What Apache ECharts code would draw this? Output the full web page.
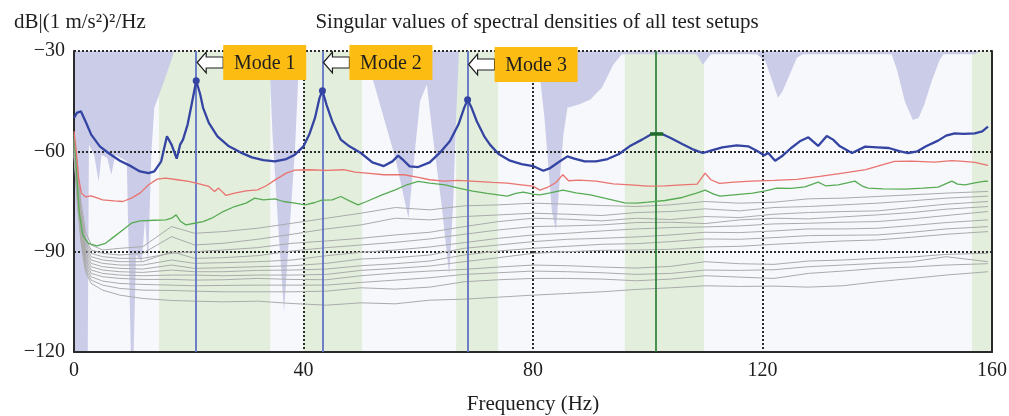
<!DOCTYPE html>
<html>
<head>
<meta charset="utf-8">
<script src="https://cdn.jsdelivr.net/npm/echarts@6/dist/echarts.min.js"></script>
<style>
  html, body { margin: 0; padding: 0; background: #ffffff; }
  #chart { width: 1009px; height: 416px; }
</style>
</head>
<body>
<div id="chart"></div>
<script>
// ---- Data (frequency in Hz, level in dB re (1 m/s²)²/Hz) ----

// First singular value
const BLUE_X = [0, 0.5, 1.2, 2, 3, 4.5, 6, 8, 10, 11.5, 13, 14, 15.2, 16.2, 17, 17.9, 18.5, 19, 19.8, 20.5, 21.3, 22, 22.5, 23.5, 25, 27, 29, 31, 33, 35, 37, 38.5, 40, 41, 42, 42.8, 43.3, 44, 45, 46.5, 48, 50, 52, 54, 55.5, 56.5, 57.5, 58.5, 60, 62, 64, 65.5, 67, 68, 68.6, 69.3, 70.2, 71.5, 72.5, 74, 76, 78, 80, 81.8, 83, 84.5, 86, 87.2, 89, 91, 93, 95, 97, 99, 100.7, 102.5, 104, 106, 108, 109.6, 111, 113, 115.5, 117.5, 119, 120.3, 121, 122.2, 123.5, 125, 126.5, 128, 129.7, 131.2, 132.3, 133.5, 135.6, 137.9, 140, 142, 144, 145.4, 147, 148.5, 150.6, 152, 153.5, 155, 157, 158.3, 159.3];
const BLUE_Y = [-50, -48.5, -48, -51, -55, -58.5, -60.5, -62.8, -64.5, -66, -66.5, -66, -63, -55.5, -58, -62.2, -58, -56.5, -52, -46, -38.9, -43, -47, -51.5, -55.5, -58.5, -60.3, -61.8, -62.6, -63, -62.3, -61, -58.5, -55, -50, -44, -41.9, -46, -51, -56.5, -58.5, -60.5, -63.3, -64.4, -63, -61.3, -62.8, -64.5, -64.7, -63.3, -60, -57, -52, -47, -44.6, -47, -51, -55.5, -58, -60.8, -62.8, -63.8, -64.4, -65.8, -65, -63.2, -61.5, -62.2, -63, -63, -62.3, -60.8, -58.3, -56.5, -54.8, -54.8, -56, -57.8, -59.5, -60.5, -59.8, -58.8, -58.2, -58.5, -59.8, -61.2, -60.5, -62.8, -61.3, -59, -57, -55.8, -58.4, -55.4, -56.5, -58.5, -60.5, -58.6, -58.8, -59, -60, -60.5, -60, -58.5, -56.8, -55.3, -54.6, -54.8, -54.6, -54, -52.6];

// Second singular value
const RED_X = [0, 0.4, 0.8, 1.3, 2, 3, 5, 7, 8.5, 10, 11.5, 13, 14.5, 16, 18, 20, 22, 23.5, 24.5, 25.2, 26.5, 28, 30, 32, 33.5, 35, 37, 38.5, 41, 44, 47, 49, 51, 54, 57.5, 60, 62, 64.5, 67, 70, 73, 75.5, 78, 80, 81.2, 82.5, 84, 85.2, 86.2, 88, 91, 94, 97, 100, 103, 106, 108.6, 110, 111, 112.5, 115, 118, 122, 126, 130, 134, 138, 141, 143, 146, 150, 153, 155, 157, 159.3];
const RED_Y = [-54, -60, -68, -72.5, -73.6, -73.3, -74.5, -74.8, -75, -74, -72.5, -70, -68.3, -68, -68.5, -69, -69.8, -70.5, -72, -71, -73.2, -72.5, -71.8, -71.5, -70.3, -68.6, -66.5, -65.6, -65.5, -65.7, -65.5, -66.2, -66.5, -67, -67, -67.8, -68.5, -68.9, -68.7, -69, -69.3, -69.5, -70, -70.4, -71.6, -70.8, -69.3, -67, -68.8, -68.6, -68.9, -69.7, -70, -70.4, -70.3, -70, -69.8, -66.5, -68.5, -69.6, -69.2, -68.9, -68.7, -68.4, -67.5, -66.5, -65.5, -64, -63, -62.9, -63.2, -62.8, -63, -63.3, -64.2];

// Third singular value
const GREEN_X = [0, 0.4, 0.9, 1.5, 2.5, 4, 5.5, 7, 8.5, 10, 11.5, 14, 16, 17, 17.8, 18.6, 19.5, 21, 22.5, 24, 26, 28, 30, 31.5, 33, 35, 36.5, 38.5, 40.3, 42, 43.2, 45, 46.5, 48, 49.5, 51, 53.7, 56, 58, 60, 62, 64.7, 67, 69.5, 72, 75.5, 77, 78.3, 80, 81.2, 83, 85.2, 87.5, 90, 93, 96, 98, 100, 103, 106, 108.5, 110, 111.5, 112.6, 115, 118.3, 120.5, 122.5, 125, 127.4, 129.7, 131, 133.2, 136.1, 137.5, 138.4, 141, 144.8, 148, 150.6, 153, 154, 155.3, 157, 158.8, 159.3];
const GREEN_Y = [-55, -65, -78, -85, -87.5, -88.3, -87.5, -85.5, -83.5, -81.5, -80.8, -80.6, -80.5, -80, -79, -81, -82, -81.5, -81, -80, -78, -76.5, -75.5, -74, -74.5, -74.2, -75, -75.5, -76, -75.3, -74.6, -74.5, -73.5, -74.8, -76, -75, -73, -71.5, -70, -69, -69.5, -70, -71, -71.9, -72.6, -73.4, -72.6, -72.2, -72.8, -73, -72.4, -71.6, -72.4, -73, -74.2, -75.4, -75.5, -75.2, -74.7, -73.8, -72.5, -71.6, -72.8, -73.4, -73, -72.5, -71.8, -71, -71.1, -70.6, -69.2, -70.3, -70, -68.9, -70.5, -71, -71.2, -71.3, -71, -70.7, -68.9, -69.8, -70, -69.4, -68.9, -69];

// Remaining singular values share one frequency grid
const GREY_X = [0, 0.6, 1.2, 2, 3, 5, 8, 12, 17, 21, 26, 32, 38, 44, 50, 56, 62, 68, 74, 80, 86, 92, 98, 104, 110, 116, 122, 128, 134, 140, 146, 152, 159.3];
const GREY_1  = [-56, -64, -75, -84, -88, -89.5, -89, -88.5, -82.5, -84.5, -84, -83, -81.5, -80, -78.5, -76.8, -77.5, -76.3, -76, -75.5, -75.8, -76.2, -76.5, -76, -75, -75.5, -75.2, -74.2, -74, -73.5, -73, -72.5, -72];
const GREY_2  = [-56.5, -66, -77, -86, -89.5, -90.5, -91, -90.5, -85.5, -88, -87.5, -86.3, -84.8, -83.2, -82, -80, -80.5, -79.5, -79, -78.5, -78.8, -79.2, -78.3, -78, -77.2, -77.8, -76.8, -76.5, -76, -75.5, -74.8, -74, -73.4];
const GREY_3  = [-57, -67, -78, -87, -90.5, -91.5, -92, -92, -90.5, -90, -89.5, -88.8, -87.5, -86.8, -86, -85, -84.2, -82.5, -81, -80, -80.3, -80.8, -80, -80.4, -79.5, -79.8, -78.8, -78.3, -78, -77.8, -76.8, -75.8, -75];
const GREY_4  = [-57.5, -68, -79, -88, -91.5, -92.5, -93, -93, -90, -92, -91.8, -91.2, -89.8, -88.8, -88, -87.2, -86.2, -84.8, -83.5, -82.5, -82.3, -82, -81.3, -81.2, -81.6, -80.5, -80, -80.2, -79.6, -79, -78.3, -77.3, -76.5];
const GREY_5  = [-58, -69, -80, -89, -92.5, -93.5, -94, -94, -92.5, -93.5, -93.3, -93, -92.5, -91.2, -90.2, -89.5, -88.6, -87.3, -86, -85, -84.5, -83.8, -83.2, -82.8, -82.6, -82.3, -81.7, -81.5, -81.2, -81, -80.2, -79.2, -78];
const GREY_6  = [-58.5, -70, -81, -90, -93.5, -94.5, -95, -95.2, -94, -95, -94.8, -94.5, -94.2, -93.5, -92.2, -91.8, -91, -89, -88, -87, -86.3, -86, -85.6, -85, -84.2, -84.3, -83.8, -83.2, -83.2, -83, -82.2, -81.3, -80.5];
const GREY_7  = [-59, -71, -82, -91, -94.5, -95.5, -96, -96.2, -95.5, -96, -96, -95.6, -95.5, -95.2, -94.2, -93.6, -92.8, -91, -89.8, -89, -88.4, -87.8, -87.6, -87, -86.2, -86.3, -85.8, -85.2, -85.1, -85, -84.2, -83.2, -82.5];
const GREY_8  = [-59.5, -72, -83, -92, -95.5, -96.5, -97, -97.2, -97, -97, -97.2, -97, -97, -96.8, -95.6, -95, -94.3, -93, -91.8, -90.5, -90, -89.6, -89.5, -89.3, -88.6, -88.4, -87.8, -87.3, -86.8, -86.5, -85.7, -84.8, -84];
const GREY_9  = [-60, -73, -84, -93, -96.5, -97.5, -98, -98.3, -98.3, -98.5, -98.4, -98, -98.3, -98.4, -97.2, -96.4, -95.8, -95.3, -94.6, -94, -94.2, -94.6, -94.9, -94.4, -93, -93.6, -93.8, -92.8, -92.5, -92, -91.6, -90.8, -90.5];
const GREY_10 = [-60.5, -74, -85, -94, -97.5, -98.8, -99.5, -99.8, -100, -100.2, -100.1, -100, -100, -100, -99.2, -98.5, -97.8, -96.8, -96.3, -95.8, -96, -96.3, -96.8, -96.5, -95.5, -95.6, -95.4, -94.5, -94, -93.5, -93, -91.5, -93];
const GREY_11 = [-61, -75, -86, -95, -98.5, -100, -101, -101.5, -101.6, -101.8, -102, -102, -102, -101.8, -100.8, -101.2, -100.6, -99, -98.4, -98, -98, -98.2, -98.7, -98.2, -97.2, -97.6, -98, -96.5, -95.8, -95, -94.6, -94, -93.6];
const GREY_12 = [-61.5, -76, -87, -96, -99.5, -101.5, -103, -104, -104.6, -104.8, -105, -104.8, -105.5, -106, -105.3, -105.6, -104.5, -104.2, -103.6, -103, -102.5, -102, -101.3, -100.8, -100.2, -100.4, -100.3, -100.6, -100.2, -99, -98, -97, -96];
const GREY_LINES = [GREY_1, GREY_2, GREY_3, GREY_4, GREY_5, GREY_6, GREY_7, GREY_8, GREY_9, GREY_10, GREY_11, GREY_12];

// Lower edge of the shaded (lavender) region hanging from the top of the plot
const SHADE_X = [0, 2.4, 2.6, 3.5, 4.3, 4.8, 5.8, 6.5, 7.2, 9.2, 9.9, 10.4, 10.8, 11.8, 12.4, 12.9, 13.5, 14, 15.5, 17.5, 34, 34.6, 35.5, 36.6, 37.5, 38.5, 39.3, 50.5, 52, 54, 56, 58.3, 59.3, 60.3, 61.5, 62.5, 64, 65.4, 66.1, 66.6, 67.1, 80.7, 82, 83.3, 84, 84.6, 85.3, 86, 88, 90, 92, 94, 95.5, 108.5, 109.6, 111, 119, 120.5, 121.5, 122.7, 123.5, 124.5, 126, 127, 142.5, 143.5, 144.8, 146.2, 147.2, 148.2, 149.5, 150.8, 151.5, 157, 158, 160];
const SHADE_Y = [-120, -120, -58, -61, -69, -61, -62, -67, -61, -63, -120, -120, -91, -93, -80, -94, -60, -47, -40, -30, -30, -55, -80, -108, -85, -60, -30, -30, -38, -50, -62, -80, -62, -45, -40, -55, -75, -97, -75, -50, -30, -30, -50, -78, -83.5, -70, -55, -47, -46, -44.5, -41, -34, -31, -31, -34, -31, -31, -33, -38, -44, -42, -38, -32, -31, -31, -36, -45, -50.6, -50, -46, -39, -33, -31, -31, -30, -30];

// Frequency bands highlighted in green [from, to]
const BANDS = [[14.8, 34.2], [40, 50.2], [66.6, 73.9], [96, 109.8], [156.5, 160]];

// Identified modes (peak frequencies) and the extra marker line
const MODE_FREQS = [21.3, 43.3, 68.6];
const MODE_LABELS = ['Mode 1', 'Mode 2', 'Mode 3'];
const EXTRA_LINE_FREQ = 101.4;
const EXTRA_MARK_X = [100.4, 102.7];
const EXTRA_MARK_Y = [-54.8, -54.8];

// Axis ticks
const X_MIN = 0, X_MAX = 160, X_STEP = 40;
const Y_MIN = -120, Y_MAX = -30, Y_STEP = 30;

// ---- Chart ----
const SERIF = '"Liberation Serif", "DejaVu Serif", serif';
const zip = (xs, ys) => xs.map((x, i) => [x, ys[i]]);

const dotted = { type: [2, 2], color: '#2b2b2b', width: 2 };

const series = [];

// green bands
series.push({
  name: 'bands', type: 'line', data: [], z: -3, silent: true,
  markArea: {
    silent: true, z: -3,
    itemStyle: { color: '#e3efdc' },
    data: BANDS.map(b => [{ xAxis: b[0] }, { xAxis: b[1] }])
  }
});

// lavender shading from the top edge
series.push({
  name: 'shade', type: 'line', data: zip(SHADE_X, SHADE_Y), z: -2, silent: true,
  symbol: 'none', lineStyle: { width: 0 },
  areaStyle: { color: '#cbcce8', opacity: 1, origin: 'end' }
});

// grey singular values
GREY_LINES.forEach((g, i) => {
  series.push({
    name: 'sv' + (i + 4), type: 'line', data: zip(GREY_X, g), z: 3,
    symbol: 'none',
    lineStyle: { color: '#ababab', width: 1 }
  });
});

// mode lines
series.push({
  name: 'modes', type: 'line', data: [], z: 4, silent: true,
  markLine: {
    silent: true, symbol: 'none', label: { show: false }, z: 4,
    data: MODE_FREQS.map(f => ({ xAxis: f, lineStyle: { color: '#5f72c6', width: 2, type: 'solid', opacity: 0.9 } }))
      .concat([{ xAxis: EXTRA_LINE_FREQ, lineStyle: { color: '#1f7a2c', width: 1.6, type: 'solid' } }])
  }
});

series.push({
  name: 'sv3', type: 'line', data: zip(GREEN_X, GREEN_Y), z: 5,
  symbol: 'none', lineStyle: { color: '#58ab55', width: 1.3 }
});
series.push({
  name: 'sv2', type: 'line', data: zip(RED_X, RED_Y), z: 5,
  symbol: 'none', lineStyle: { color: '#e9736f', width: 1.3 }
});

// peak markers taken from the first singular value at the mode frequencies
const peaks = MODE_FREQS.map(f => {
  const i = BLUE_X.indexOf(f);
  return { coord: [BLUE_X[i], BLUE_Y[i]] };
});
series.push({
  name: 'sv1', type: 'line', data: zip(BLUE_X, BLUE_Y), z: 6,
  symbol: 'none', lineStyle: { color: '#3444a2', width: 2.3 },
  markPoint: {
    silent: true, symbol: 'circle', symbolSize: 7,
    itemStyle: { color: '#3444a2' }, label: { show: false },
    data: peaks
  }
});
series.push({
  name: 'mark', type: 'line', data: zip(EXTRA_MARK_X, EXTRA_MARK_Y), z: 7,
  symbol: 'none', lineStyle: { color: '#1f6b2a', width: 3.5 }
});

const option = {
  animation: false,
  backgroundColor: '#ffffff',
  title: [
    {
      text: 'Singular values of spectral densities of all test setups',
      left: 532, top: 7, textAlign: 'center',
      textStyle: { fontFamily: SERIF, fontSize: 21, fontWeight: 'normal', color: '#1e1e1e' }
    },
    {
      text: 'dB|(1 m/s²)²/Hz',
      left: 9, top: 7,
      textStyle: { fontFamily: SERIF, fontSize: 21, fontWeight: 'normal', color: '#1e1e1e' }
    }
  ],
  grid: {
    left: 74, right: 17, top: 51, bottom: 64,
    containLabel: false, outerBoundsMode: 'none',
    show: true, backgroundColor: '#f7f8fc', borderWidth: 0, z: -5
  },
  xAxis: {
    type: 'value', min: X_MIN, max: X_MAX, interval: X_STEP,
    name: 'Frequency (Hz)', nameLocation: 'middle', nameGap: 42,
    nameTextStyle: { fontFamily: SERIF, fontSize: 21, color: '#1e1e1e' },
    axisLine: { show: true, onZero: false, lineStyle: { color: '#2a2a2a', width: 2 } },
    axisTick: { show: false },
    axisLabel: { fontFamily: SERIF, fontSize: 20, color: '#1e1e1e', margin: 9 },
    splitLine: { show: true, lineStyle: dotted }
  },
  yAxis: [
    {
      type: 'value', min: Y_MIN, max: Y_MAX, interval: Y_STEP,
      axisLine: { show: true, onZero: false, lineStyle: { color: '#2a2a2a', width: 2 } },
      axisTick: { show: false },
      axisLabel: {
        fontFamily: SERIF, fontSize: 20, color: '#1e1e1e', margin: 9,
        formatter: v => String(v).replace('-', '\u2212')
      },
      splitLine: { show: true, lineStyle: dotted }
    },
    {
      type: 'value', min: Y_MIN, max: Y_MAX, interval: Y_STEP, position: 'right',
      axisLine: { show: true, onZero: false, lineStyle: { color: '#2a2a2a', width: 2 } },
      axisTick: { show: false }, axisLabel: { show: false }, splitLine: { show: false }
    }
  ],
  series: series
};

const chart = echarts.init(document.getElementById('chart'), null, { renderer: 'canvas' });
chart.setOption(option);

// mode annotations: arrow pointing at the mode line plus a label box
const graphic = [];
MODE_FREQS.forEach((f, i) => {
  const px = chart.convertToPixel({ xAxisIndex: 0 }, f);
  const top = i === 2 ? 47 : 45;
  const h = 35, w = 83;
  const cy = top + h / 2;
  const a = px + 1;
  graphic.push({
    type: 'polygon', z: 100,
    shape: { points: [[a, cy], [a + 9, cy - 10.5], [a + 9, cy - 5.5], [a + 26, cy - 5.5], [a + 26, cy + 5.5], [a + 9, cy + 5.5], [a + 9, cy + 10.5]] },
    style: { fill: '#ffffff', stroke: '#1e1e1e', lineWidth: 1.2 }
  });
  graphic.push({
    type: 'rect', z: 100,
    shape: { x: px + 27, y: top, width: w, height: h },
    style: { fill: '#fcbc12' }
  });
  graphic.push({
    type: 'text', z: 101,
    x: px + 27 + w / 2, y: cy + 1,
    style: {
      text: MODE_LABELS[i], font: '20px ' + SERIF, fill: '#1e1e1e',
      align: 'center', verticalAlign: 'middle', textAlign: 'center', textVerticalAlign: 'middle'
    }
  });
});
chart.setOption({ graphic: graphic });
</script>
</body>
</html>
